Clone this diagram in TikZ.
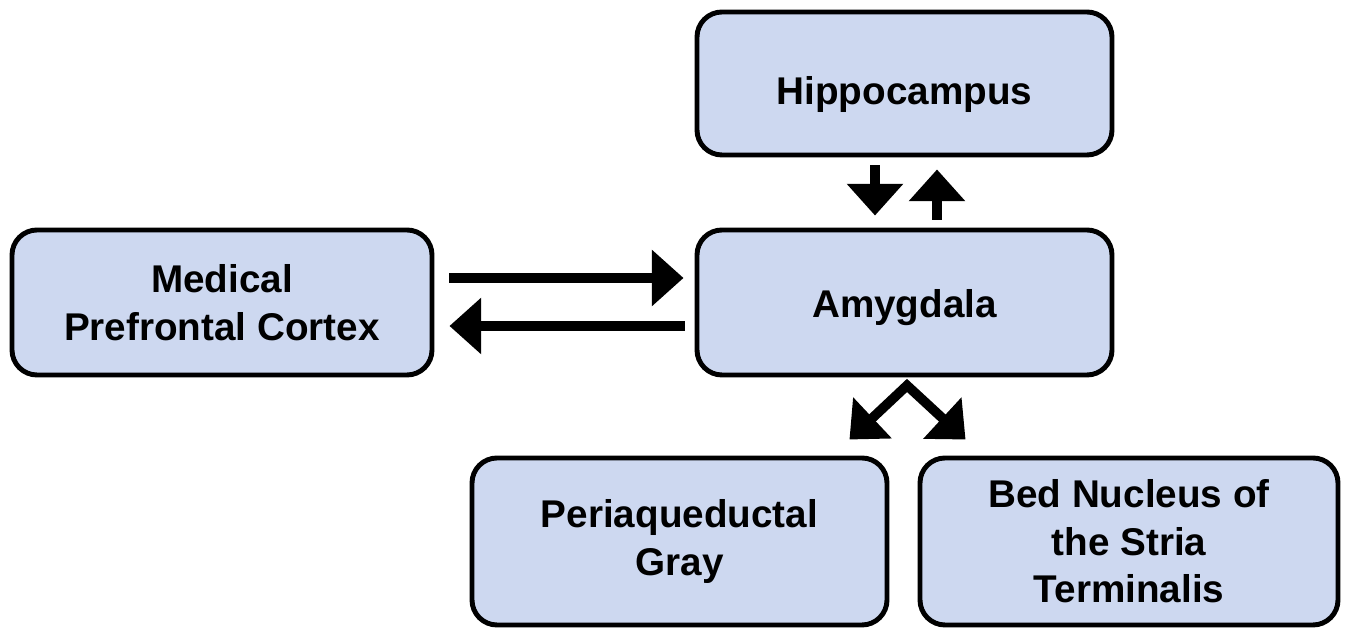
\documentclass[tikz,border=0pt]{standalone}
\usepackage{fontspec}
\setmainfont{Liberation Sans}
\usetikzlibrary{arrows.meta}
\definecolor{boxblue}{RGB}{205,216,240}

\begin{document}
\begin{tikzpicture}[
  region/.style={draw, line width=2.8pt, rounded corners=0.5cm, fill=boxblue, align=center,
    font=\fontsize{22}{27}\selectfont\bfseries, minimum width=8.3cm, minimum height=2.9cm},
  arr/.style={line width=5.5pt, -{Triangle[length=18pt,width=31pt]}},
  twoarr/.style={line width=5.5pt, line join=miter, {Triangle[length=18pt,width=31pt]}-{Triangle[length=18pt,width=31pt]}}]
\useasboundingbox (0,0) rectangle (27.04,12.62);
\node[region, minimum height=2.86cm, text height=29pt] (hip) at (18.09,10.95) {Hippocampus};
\node[region, text height=22pt] (amy) at (18.09,6.57) {Amygdala};
\node[region, minimum width=8.4cm] (mpfc) at (4.44,6.57) {Medical\\Prefrontal Cortex};
\node[region, minimum height=3.34cm] (pag) at (13.59,1.79) {Periaqueductal\\Gray};
\node[region, minimum width=8.36cm, minimum height=3.34cm] (bnst) at (22.58,1.79) {Bed Nucleus of\\the Stria\\Terminalis};

\draw[arr] ([xshift=-0.59cm,yshift=-0.16cm]hip.south) -- ([xshift=-0.59cm,yshift=0.24cm]amy.north);
\draw[arr] ([xshift=0.65cm,yshift=0.16cm]amy.north) -- ([xshift=0.65cm,yshift=-0.24cm]hip.south);

\draw[arr] ([xshift=0.3cm,yshift=0.49cm]mpfc.east) -- ([xshift=-0.22cm,yshift=0.49cm]amy.west);
\draw[arr] ([xshift=-0.2cm,yshift=-0.47cm]amy.west) -- ([xshift=0.3cm,yshift=-0.47cm]mpfc.east);

\coordinate (fork) at ([xshift=0.05cm,yshift=-0.16cm]amy.south);
\draw[twoarr] ([xshift=-0.8cm,yshift=0.32cm]pag.north east) -- (fork) -- ([xshift=0.96cm,yshift=0.32cm]bnst.north west);
\end{tikzpicture}
\end{document}
